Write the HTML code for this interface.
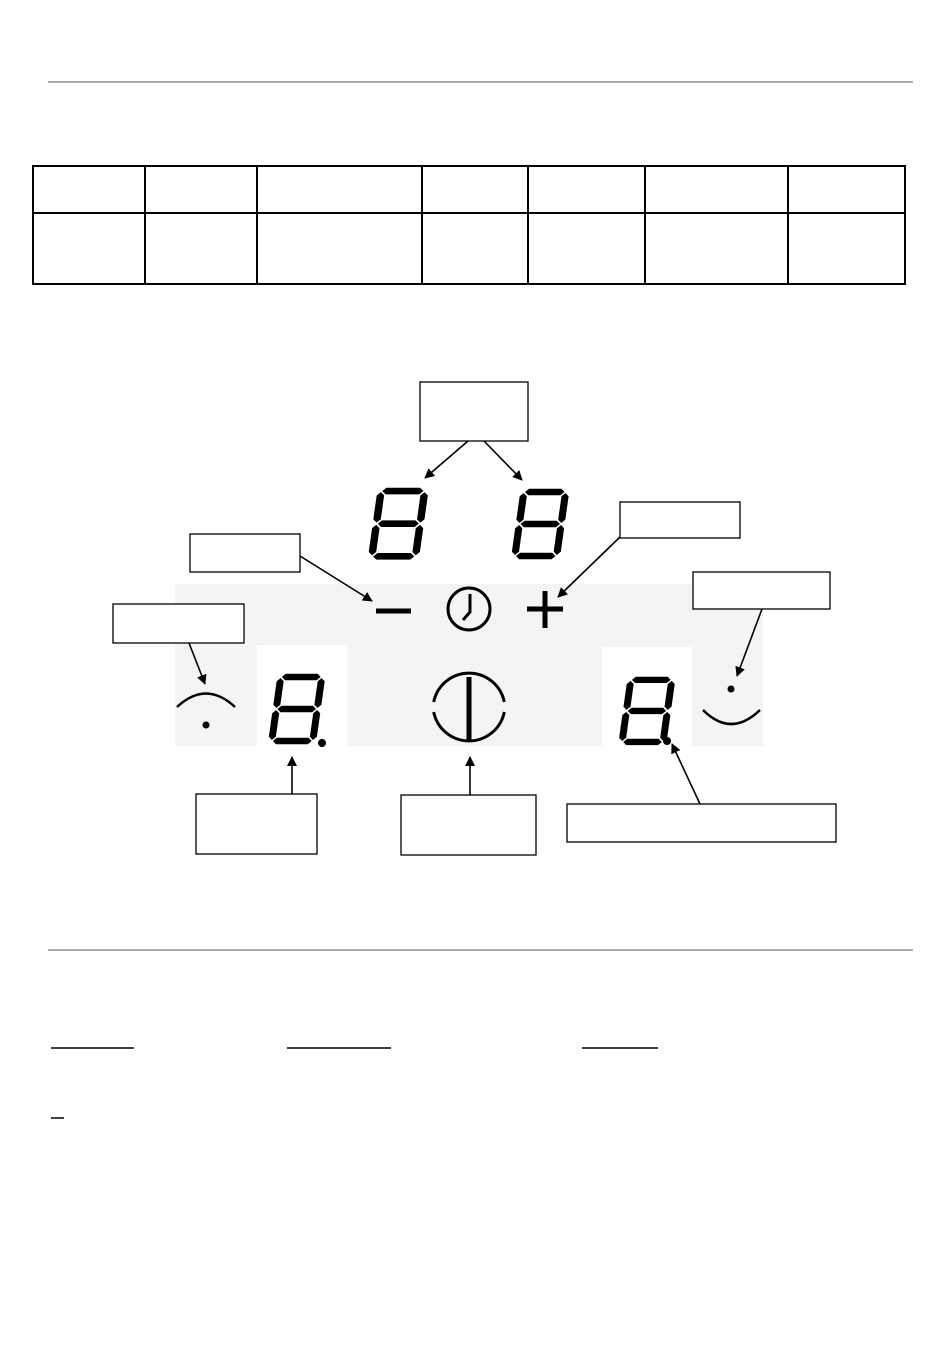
<!DOCTYPE html>
<html><head><style>html,body{margin:0;padding:0;background:#fff;}svg{display:block}</style></head>
<body>
<svg width="950" height="1360" viewBox="0 0 950 1360" xmlns="http://www.w3.org/2000/svg">
<defs>
<marker id="ah" markerWidth="10" markerHeight="10" refX="9" refY="5" orient="auto" markerUnits="userSpaceOnUse"><path d="M0,0 L10,5 L0,10 z" fill="#000"/></marker>
<g id="dig" stroke="#fff" stroke-width="1.5">
<polygon points="8,0 38,0 42,4 38,8 8,8 4,4"/>
<polygon points="8,32 38,32 42,36 38,40 8,40 4,36"/>
<polygon points="8,64 38,64 42,68 38,72 8,72 4,68"/>
<polygon points="0,8 4,4 8,8 8,32 4,36 0,32"/>
<polygon points="38,8 42,4 46,8 46,32 42,36 38,32"/>
<polygon points="0,40 4,36 8,40 8,64 4,68 0,64"/>
<polygon points="38,40 42,36 46,40 46,64 42,68 38,64"/>
</g>
</defs>
<line x1="48" y1="82" x2="913" y2="82" stroke="#555" stroke-width="1"/>
<line x1="48" y1="950" x2="913" y2="950" stroke="#555" stroke-width="1"/>
<rect x="33" y="166" width="872" height="118" fill="none" stroke="#000" stroke-width="2"/>
<line x1="33" y1="213" x2="905" y2="213" stroke="#000" stroke-width="2"/>
<g stroke="#000" stroke-width="2">
<line x1="145" y1="166" x2="145" y2="284"/><line x1="257" y1="166" x2="257" y2="284"/>
<line x1="422" y1="166" x2="422" y2="284"/><line x1="528" y1="166" x2="528" y2="284"/>
<line x1="645" y1="166" x2="645" y2="284"/><line x1="788" y1="166" x2="788" y2="284"/>
</g>
<rect x="175" y="584" width="588" height="162" fill="#f4f4f4"/>
<rect x="257" y="645" width="90" height="101" fill="#fff"/>
<rect x="602" y="647" width="90" height="99" fill="#fff"/>
<use href="#dig" transform="translate(377,487) skewX(-8) scale(1.15,1.02)"/>
<use href="#dig" transform="translate(520,488) skewX(-8) scale(1.1,1.0)"/>
<use href="#dig" transform="translate(277,673) skewX(-8) scale(1.08,1.0)"/>
<use href="#dig" transform="translate(627,676) skewX(-8) scale(1.08,0.97)"/>
<circle cx="322" cy="743" r="4" fill="#000"/>
<circle cx="667" cy="741" r="4" fill="#000"/>
<line x1="376" y1="611" x2="411" y2="611" stroke="#000" stroke-width="5"/>
<circle cx="469" cy="609" r="21" fill="none" stroke="#000" stroke-width="3"/>
<polyline points="470,594 470,612 463,620" fill="none" stroke="#000" stroke-width="3"/>
<line x1="527" y1="609" x2="563" y2="609" stroke="#000" stroke-width="5"/>
<line x1="545" y1="591" x2="545" y2="628" stroke="#000" stroke-width="5"/>
<path d="M433.7,702 A36,36 0 0 1 504.3,702" fill="none" stroke="#000" stroke-width="3"/>
<path d="M433.7,712 A36,36 0 0 0 504.3,712" fill="none" stroke="#000" stroke-width="3"/>
<line x1="469" y1="677" x2="469" y2="740" stroke="#000" stroke-width="5"/>
<path d="M177,707 Q206,680 235,707" fill="none" stroke="#000" stroke-width="2.5"/>
<circle cx="206" cy="725" r="3.5" fill="#000"/>
<circle cx="731" cy="689" r="3.5" fill="#000"/>
<path d="M703,710 Q731,738 760,710" fill="none" stroke="#000" stroke-width="2.5"/>
<g fill="#fff" stroke="#000" stroke-width="1.3">
<rect x="420" y="382" width="108" height="59"/>
<rect x="190" y="534" width="110" height="38"/>
<rect x="620" y="502" width="120" height="36"/>
<rect x="693" y="572" width="137" height="37"/>
<rect x="113" y="604" width="131" height="39"/>
<rect x="196" y="794" width="121" height="60"/>
<rect x="401" y="795" width="135" height="60"/>
<rect x="567" y="804" width="269" height="38"/>
</g>
<g stroke="#000" stroke-width="1.6" marker-end="url(#ah)">
<line x1="468" y1="441" x2="425" y2="478"/>
<line x1="484" y1="441" x2="522" y2="480"/>
<line x1="300" y1="556" x2="372" y2="601"/>
<line x1="620" y1="537" x2="558" y2="597"/>
<line x1="762" y1="609" x2="737" y2="676"/>
<line x1="189" y1="643" x2="205" y2="684"/>
<line x1="292" y1="794" x2="292" y2="757"/>
<line x1="470" y1="795" x2="470" y2="757"/>
<line x1="700" y1="804" x2="672" y2="744"/>
</g>
<g stroke="#000" stroke-width="1.5">
<line x1="51" y1="1048" x2="134" y2="1048"/>
<line x1="287" y1="1048" x2="391" y2="1048"/>
<line x1="582" y1="1048" x2="658" y2="1048"/>
<line x1="51" y1="1118" x2="64" y2="1118"/>
</g>
</svg>
</body></html>
